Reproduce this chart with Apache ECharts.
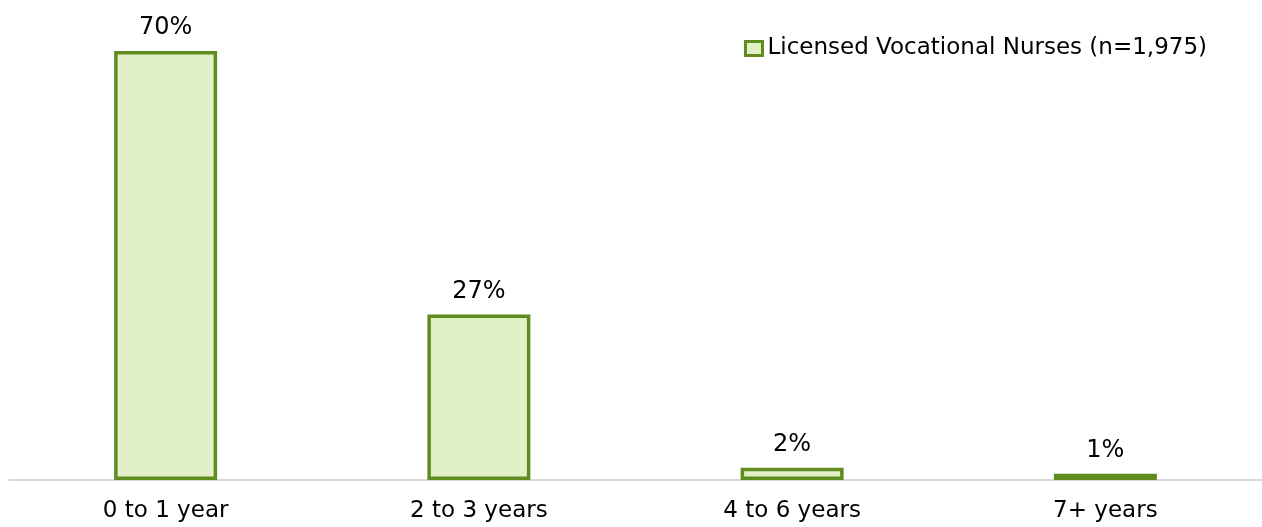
<!DOCTYPE html>
<html>
<head>
<meta charset="utf-8">
<title>Licensed Vocational Nurses</title>
<script src="https://cdn.jsdelivr.net/npm/echarts@6/dist/echarts.min.js"></script>
<style>
	html, body { margin: 0; padding: 0; background: #fff; }
	#chart { width: 1262px; height: 527px; }
</style>
</head>
<body>
<div id="chart"></div>
<script>
	// data
	var categories = ['0 to 1 year', '2 to 3 years', '4 to 6 years', '7+ years'];
	var lvnShare = [70, 27, 2, 1];
	var seriesName = 'Licensed Vocational Nurses (n=1,975)';

	var fontName = 'DejaVu Sans';
	var lineGreen = '#5F8C1E';
	var fillGreen = '#E2F0C8';

	var myChart = echarts.init(document.getElementById('chart'));

	var option = {
		animation: false,
		textStyle: { fontFamily: fontName },
		legend: {
			right: 50,
			top: 32,
			itemWidth: 17,
			itemHeight: 14,
			itemGap: 6,
			icon: 'rect',
			itemStyle: { color: fillGreen, borderColor: lineGreen, borderWidth: 3 },
			textStyle: { fontSize: 23, color: '#000', fontFamily: fontName },
			data: [seriesName]
		},
		grid: { left: 9, right: -6, top: 51, bottom: 47, containLabel: false },
		xAxis: {
			type: 'category',
			data: categories,
			axisLine: { lineStyle: { color: '#D9D9D9', width: 2 } },
			axisTick: { show: false },
			axisLabel: { fontSize: 23, color: '#000', margin: 20, fontFamily: fontName }
		},
		yAxis: {
			type: 'value',
			min: 0,
			max: 70,
			show: false
		},
		series: [
			{
				name: seriesName,
				type: 'bar',
				barWidth: 103,
				data: lvnShare,
				itemStyle: { color: fillGreen, borderColor: lineGreen, borderWidth: 3.5 },
				label: {
					show: true,
					position: 'top',
					distance: 11,
					fontSize: 24,
					color: '#000',
					fontFamily: fontName,
					formatter: function (p) { return p.value + '%'; }
				}
			}
		]
	};
	myChart.setOption(option);
</script>
</body>
</html>
